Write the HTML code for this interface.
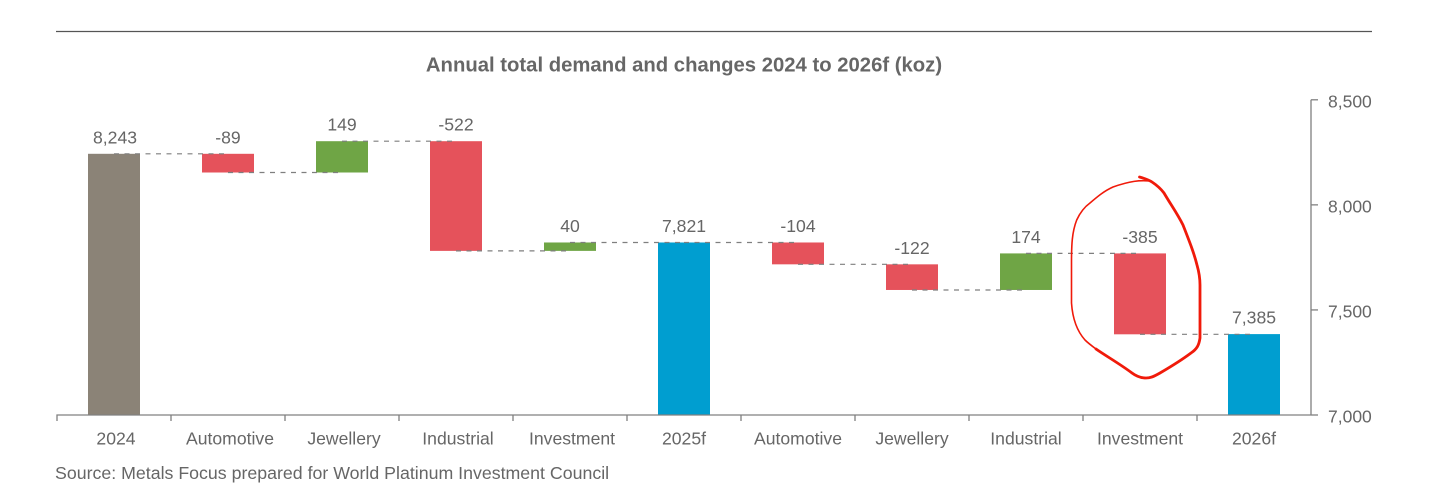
<!DOCTYPE html>
<html lang="en">
<head>
<meta charset="utf-8">
<title>Annual total demand and changes 2024 to 2026f</title>
<style>
html,body{margin:0;padding:0;background:#fff;width:1456px;height:502px;overflow:hidden}
svg{display:block}
text{font-family:"Liberation Sans",Arial,sans-serif;fill:#666}
</style>
</head>
<body>
<svg id="chart" xmlns="http://www.w3.org/2000/svg" width="1456" height="502" viewBox="0 0 1456 502">
  <rect width="1456" height="502" fill="#fff"/>
  <line x1="56" x2="1372" y1="31.5" y2="31.5" stroke="#555" stroke-width="1.2"/>
  <text x="684" y="71.5" text-anchor="middle" font-size="20.3" font-weight="bold">Annual total demand and changes 2024 to 2026f (koz)</text>
  <text x="55" y="479" font-size="17.75">Source: Metals Focus prepared for World Platinum Investment Council</text>
  <g id="plot"></g>
  <g fill="none" stroke="#f01a0a" stroke-linecap="round" stroke-linejoin="round">
    <path stroke-width="1.6" d="M1150 181C1140 180 1130 181 1113 187C1104 191 1097 197 1090 203C1083 208 1079 215 1076.7 220C1072 232 1071.5 245 1071.5 262L1071.5 303C1072.5 318 1077 331 1085 340C1088 343 1092 346 1096 349"/>
    <path stroke-width="2.8" d="M1139.5 177C1145 178.5 1149 180 1152 182C1158 186 1161 189 1164 193C1171 205 1177 213 1183 225C1190 243 1194 253 1197 265C1199 272 1200 277 1200 285L1200 338C1199 345 1197 349 1191 353C1183 359 1172 366 1160 373C1153 377 1150 378 1146 378C1140 378 1136 376 1132 373C1120 364 1106 356 1096 349"/>
  </g>
</svg>
<script>
const categories = ["2024","Automotive","Jewellery","Industrial","Investment","2025f","Automotive","Jewellery","Industrial","Investment","2026f"];
const values = [8243,-89,149,-522,40,7821,-104,-122,174,-385,7385];
const isTotal = [true,false,false,false,false,true,false,false,false,false,true];
const valueLabels = ["8,243","-89","149","-522","40","7,821","-104","-122","174","-385","7,385"];
const yTicks = [7000,7500,8000,8500];
const yTickLabels = ["7,000","7,500","8,000","8,500"];

const NS = "http://www.w3.org/2000/svg";
const plot = document.getElementById("plot");
const axisLeft = 57, axisRight = 1311, axisBottom = 415, axisTop = 99.8;
const yMin = yTicks[0], yMax = yTicks[yTicks.length - 1];
const barWidth = 52;
const bandWidth = (axisRight - axisLeft) / categories.length;
const xCenter = i => axisLeft + bandWidth * (i + 0.5);
const yScale = v => axisBottom - (v - yMin) / (yMax - yMin) * (axisBottom - axisTop);

function make(tag, attrs, text) {
  const el = document.createElementNS(NS, tag);
  for (const k in attrs) el.setAttribute(k, attrs[k]);
  if (text !== undefined) el.textContent = text;
  plot.appendChild(el);
  return el;
}

// running levels for the waterfall
const tops = [], bottoms = [], ends = [];
let level = yMin;
values.forEach((v, i) => {
  if (isTotal[i]) {
    tops.push(v); bottoms.push(yMin); level = v;
  } else {
    tops.push(Math.max(level, level + v));
    bottoms.push(Math.min(level, level + v));
    level += v;
  }
  ends.push(level);
});

// bars
values.forEach((v, i) => {
  let fill = v < 0 ? "#e5525b" : "#6fa545";
  if (isTotal[i]) fill = i === 0 ? "#8b8377" : "#009ed0";
  const r = make("rect", {
    x: xCenter(i) - barWidth / 2,
    y: yScale(tops[i]),
    width: barWidth,
    height: yScale(bottoms[i]) - yScale(tops[i]),
    fill: fill
  });
  
  
});

// connectors
ends.slice(0, -1).forEach((lv, i) => {
  const c = make("line", {
    x1: xCenter(i), x2: xCenter(i + 1),
    y1: yScale(lv), y2: yScale(lv),
    stroke: "#7f7f7f", "stroke-width": 1.2, "stroke-dasharray": "5 5.5"
  });
  
  
});

// value labels
valueLabels.forEach((t, i) => {
  const l = make("text", {
    x: xCenter(i) + (i === 0 ? 1 : 0), y: yScale(tops[i]) - 10.5,
    "text-anchor": "middle", "font-size": 17.6
  }, t);
  
  
});

// x axis
const xAxis = make("path", {
  d: `M${axisLeft} ${axisBottom + 6}V${axisBottom}H${axisRight}`,
  fill: "none", stroke: "#808080", "stroke-width": 1.3
});


categories.forEach((c, i) => {
  const tx = axisLeft + bandWidth * (i + 1);
  if (i < categories.length - 1) {
    const t = make("line", {x1: tx, x2: tx, y1: axisBottom, y2: axisBottom + 6, stroke: "#808080", "stroke-width": 1.3});
    
    
  }
  const l = make("text", {x: xCenter(i) + (i < 5 ? 2 : 0), y: 444.5, "text-anchor": "middle", "font-size": 17.6}, c);
  
  
});

// y axis (right)
const yAxis = make("line", {x1: axisRight, x2: axisRight, y1: axisTop, y2: axisBottom, stroke: "#808080", "stroke-width": 1.3});


yTicks.forEach((v, i) => {
  const t = make("line", {x1: axisRight, x2: axisRight + 7, y1: yScale(v), y2: yScale(v), stroke: "#808080", "stroke-width": 1.3});
  
  
  const l = make("text", {x: 1328, y: yScale(v) + 7.7, "font-size": 17.5}, yTickLabels[i]);
  
  
});
</script>
</body>
</html>
